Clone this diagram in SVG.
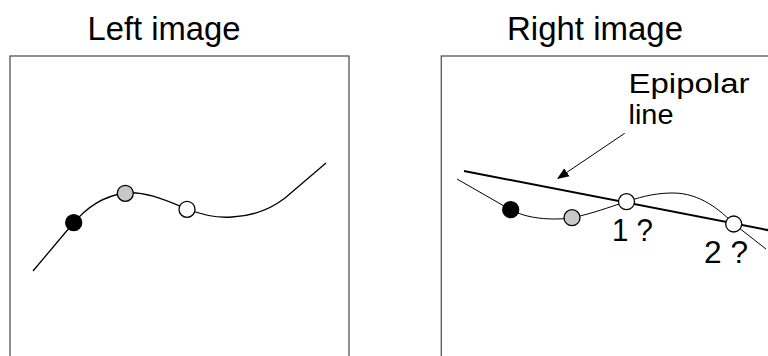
<svg xmlns="http://www.w3.org/2000/svg" width="768" height="356" viewBox="0 0 768 356">
<style>
.frame{fill:none;stroke:#555;stroke-width:1.3}
.curve{fill:none;stroke:#000;stroke-width:1.3}
.thin{fill:none;stroke:#000;stroke-width:1}
.epi{fill:none;stroke:#000;stroke-width:2}
.pt{stroke:#000;stroke-width:1.3}
.lbl{font-family:"Liberation Sans",Arial,sans-serif;fill:#000}
</style>
<defs>
<marker id="ah" viewBox="0 0 10 10" refX="9" refY="5" markerWidth="12" markerHeight="12" markerUnits="userSpaceOnUse" orient="auto">
<path d="M0,1 L10,5 L0,9 Z" fill="#000"/>
</marker>
</defs>
<g id="left-image">
<rect class="frame" x="10" y="56" width="339" height="320"/>
<text class="lbl" x="164" y="39.5" font-size="33" text-anchor="middle" textLength="153" lengthAdjust="spacingAndGlyphs">Left image</text>
</g>
<g id="right-image">
<rect class="frame" x="441.3" y="56" width="340" height="320"/>
<text class="lbl" x="595" y="39.5" font-size="33" text-anchor="middle" textLength="176" lengthAdjust="spacingAndGlyphs">Right image</text>
</g>
<g id="connectors">
<path class="curve" d="M33,271 L70,227 C88,205 105,196 125,193 C145,191 165,200 187,209 C205,216 220,218 232,217 C255,216 272,208 285,198 L326,163"/>
<path class="thin" d="M457,179 L511,210 C525,217 540,219 555,219 C565,219 572,218 580,216 C600,211 615,205 626,202 C645,195 660,193 673,193 C700,193 720,210 734,224 L766,249"/>
<line class="epi" x1="464" y1="171" x2="770" y2="230.5"/>
<line class="thin" x1="624.7" y1="133.3" x2="558" y2="178.3" marker-end="url(#ah)"/>
</g>
<g id="left-points">
<circle class="pt" cx="73.7" cy="222.7" r="8" fill="#000"/>
<circle class="pt" cx="125.3" cy="193.3" r="8" fill="#c8c8c8"/>
<circle class="pt" cx="187" cy="209.3" r="8" fill="#fff"/>
</g>
<g id="right-points">
<circle class="pt" cx="510.7" cy="209.7" r="8" fill="#000"/>
<circle class="pt" cx="572" cy="217.7" r="8" fill="#c8c8c8"/>
<circle class="pt" cx="626.5" cy="201.7" r="8" fill="#fff"/>
<circle class="pt" cx="733.7" cy="224" r="8" fill="#fff"/>
</g>
<g id="epipolar-label">
<text class="lbl" x="628.5" y="93.3" font-size="27" textLength="121" lengthAdjust="spacingAndGlyphs">Epipolar</text>
<text class="lbl" x="628.5" y="123.5" font-size="27" textLength="45" lengthAdjust="spacingAndGlyphs">line</text>
</g>
<g id="candidate-labels">
<text class="lbl" x="612" y="240.7" font-size="31" textLength="41" lengthAdjust="spacingAndGlyphs">1 ?</text>
<text class="lbl" x="704" y="263.3" font-size="31" textLength="44" lengthAdjust="spacingAndGlyphs">2 ?</text>
</g>
</svg>
